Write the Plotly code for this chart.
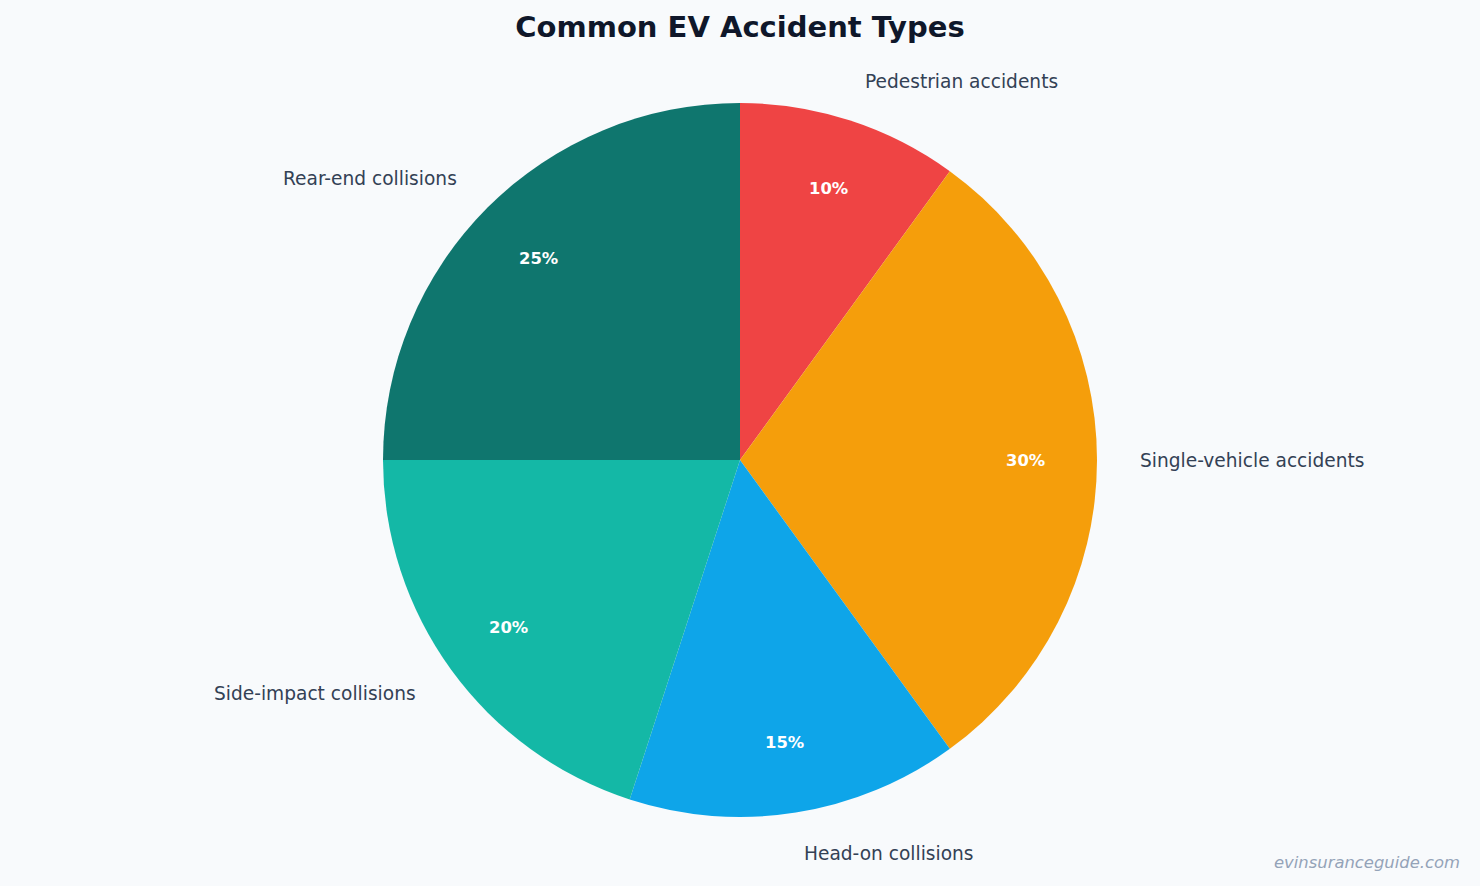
import numpy as np
import plotly.graph_objects as go

labels = ["Pedestrian accidents", "Single-vehicle accidents", "Head-on collisions",
          "Side-impact collisions", "Rear-end collisions"]
values = [10, 30, 15, 20, 25]
colors = ["#ef4444", "#f59e0b", "#0ea5e9", "#14b8a6", "#0f766e"]

W, H = 1480, 886
mt, mb = 103, 69
ph = H - mt - mb
cx, cy = W / 2, mt + ph / 2
rad = ph / 2

fig = go.Figure(go.Pie(
    labels=labels, values=values, sort=False, direction="clockwise",
    marker=dict(colors=colors, line=dict(width=0)),
    textinfo="none", hoverinfo="label+percent", showlegend=False,
    domain=dict(x=[0, 1], y=[0, 1]),
))

# label positions from the slice mid-angles
total = sum(values)
cum = np.cumsum([0] + values[:-1])
mids = (cum + np.array(values) / 2) / total * 2 * np.pi
annos = []
for lab, v, a in zip(labels, values, mids):
    s, c = np.sin(a), -np.cos(a)
    # category name outside
    px, py = cx + s * (rad + 41), cy + c * (rad + 41)
    annos.append(dict(x=px / W, y=(H - mb - py) / ph, xref="paper", yref="paper",
                      text=lab, showarrow=False, xanchor="left" if s >= 0 else "right",
                      yanchor="middle", font=dict(size=18.6, color="#334155")))
    # percent inside
    px, py = cx + s * rad * 0.8, cy + c * rad * 0.8
    annos.append(dict(x=px / W, y=(H - mb - py) / ph, xref="paper", yref="paper",
                      text="<b>%d%%</b>" % round(v / total * 100), showarrow=False,
                      xanchor="center", yanchor="middle",
                      font=dict(size=16.4, color="white")))

annos.append(dict(x=1462 / W, y=(H - mb - 862) / ph, xref="paper", yref="paper",
                  text="<i>evinsuranceguide.com</i>", showarrow=False,
                  xanchor="right", yanchor="middle",
                  font=dict(size=16.4, color="#94a3b8")))

fig.update_layout(
    width=W, height=H,
    margin=dict(l=0, r=0, t=mt, b=mb),
    paper_bgcolor="#f8fafc", plot_bgcolor="#f8fafc",
    font=dict(family="DejaVu Sans"),
    title=dict(text="<b>Common EV Accident Types</b>", x=0.5, xanchor="center",
               y=1 - 27 / H, yanchor="middle",
               font=dict(size=29, color="#0f172a")),
    annotations=annos,
)

fig.write_html("out.html", config={"displayModeBar": False},
               post_script="document.body.style.margin='0';")
